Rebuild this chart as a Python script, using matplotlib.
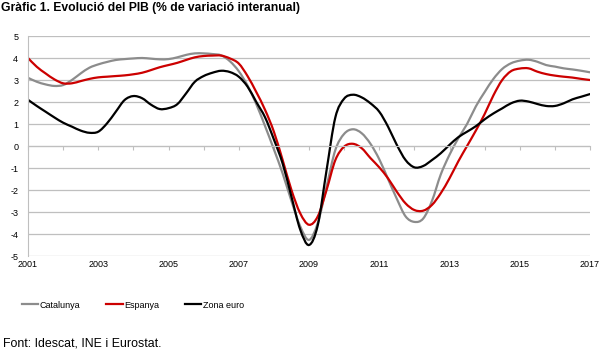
import numpy as np
import matplotlib.pyplot as plt
from matplotlib.path import Path
from matplotlib.patches import PathPatch
from matplotlib.lines import Line2D

# Quarterly values, 2001 Q1 .. 2017 Q1 (% interannual GDP change)
quarters = np.arange(2001, 2017.01, 0.25)

catalunya = [3.10, 2.92, 2.80, 2.73, 2.77, 3.00, 3.30, 3.56,
             3.71, 3.82, 3.91, 3.95, 3.98, 4.00, 3.97, 3.94,
             3.95, 4.03, 4.14, 4.21, 4.21, 4.18, 4.12, 3.85,
             3.40, 2.75, 1.90, 0.90, -0.15, -1.25, -2.50, -3.65,
             -4.27, -3.50, -1.85, -0.18, 0.55, 0.76, 0.58, 0.10,
             -0.60, -1.50, -2.40, -3.20, -3.45, -3.30, -2.50, -1.30,
             -0.40, 0.35, 1.00, 1.80, 2.45, 3.05, 3.50, 3.76,
             3.88, 3.92, 3.83, 3.68, 3.61, 3.53, 3.48, 3.42, 3.35]

espanya = [4.00, 3.60, 3.30, 3.03, 2.85, 2.85, 2.95, 3.05,
           3.12, 3.15, 3.18, 3.21, 3.26, 3.33, 3.45, 3.58,
           3.68, 3.78, 3.91, 4.03, 4.09, 4.11, 4.11, 3.98,
           3.75, 3.18, 2.45, 1.64, 0.65, -0.64, -2.00, -3.06,
           -3.58, -3.20, -2.00, -0.64, -0.03, 0.10, -0.10, -0.55,
           -0.97, -1.47, -2.08, -2.61, -2.91, -2.94, -2.68, -2.15,
           -1.47, -0.70, 0.00, 0.70, 1.45, 2.30, 3.00, 3.40,
           3.52, 3.53, 3.38, 3.27, 3.20, 3.15, 3.11, 3.05, 3.00]

zona_euro = [2.10, 1.82, 1.56, 1.30, 1.06, 0.88, 0.70, 0.60,
             0.65, 1.03, 1.56, 2.09, 2.27, 2.17, 1.88, 1.68,
             1.72, 1.90, 2.39, 2.92, 3.18, 3.33, 3.42, 3.36,
             3.15, 2.70, 2.00, 1.30, 0.30, -0.80, -2.30, -3.80,
             -4.50, -3.60, -1.10, 1.30, 2.15, 2.33, 2.21, 1.94,
             1.56, 0.88, 0.05, -0.64, -0.97, -0.91, -0.64, -0.33,
             0.05, 0.40, 0.65, 0.90, 1.21, 1.48, 1.71, 1.94,
             2.06, 2.02, 1.91, 1.82, 1.82, 1.94, 2.12, 2.24, 2.36]

series_names = ['Catalunya', 'Espanya', 'Zona euro']
series_colors = ['#8c8c8c', '#cc0000', 'black']

year_ticks = list(range(2001, 2018, 2))
y_ticks = list(range(-5, 6))


def smooth_path(x, y):
    """Smoothed line through the points (spreadsheet-style bezier)."""
    pts = np.column_stack([x, y])
    verts = [pts[0]]
    codes = [Path.MOVETO]
    n = len(pts)
    for i in range(n - 1):
        p0 = pts[i - 1] if i > 0 else pts[i]
        p1 = pts[i]
        p2 = pts[i + 1]
        p3 = pts[i + 2] if i + 2 < n else pts[i + 1]
        verts += [p1 + (p2 - p0) / 6, p2 - (p3 - p1) / 6, p2]
        codes += [Path.CURVE4] * 3
    return Path(verts, codes)


plt.rcParams['font.family'] = ['Liberation Sans', 'DejaVu Sans']
plt.rcParams['axes.unicode_minus'] = False

fig = plt.figure(figsize=(6, 3.52), dpi=100)
ax = fig.add_axes([28/600, 1 - 256/352, (590 - 28)/600, 220/352])

handles = []
for vals, name, col in zip([catalunya, espanya, zona_euro],
                           series_names, series_colors):
    ax.add_patch(PathPatch(smooth_path(quarters, vals), fill=False,
                           edgecolor=col, lw=1.6, capstyle='round'))
    handles.append(Line2D([], [], color=col, lw=1.6, label=name))

ax.set_xlim(2001, 2017)
ax.set_ylim(-5, 5)
ax.set_yticks(y_ticks)
ax.yaxis.grid(True, color='#bfbfbf', lw=0.9)
ax.set_axisbelow(True)
ax.tick_params(axis='y', length=0, labelsize=6.5, pad=7)

for s in ['top', 'right']:
    ax.spines[s].set_visible(False)
ax.spines['left'].set_color('#bfbfbf')
# year tick marks sit on the zero line
ax.spines['bottom'].set_position(('data', 0))
ax.spines['bottom'].set_color('#bfbfbf')
ax.set_xticks(range(2001, 2018))
ax.tick_params(axis='x', direction='out', length=3, color='#bfbfbf',
               labelbottom=False)

lab = ax.secondary_xaxis('bottom')
lab.set_xticks(year_ticks)
lab.tick_params(length=0, labelsize=6.5, pad=3)
lab.spines['bottom'].set_visible(False)

fig.text(0.002, 1 - 8/352, 'Gràfic 1. Evolució del PIB (% de variació interanual)',
         fontsize=8.7, fontweight='bold', va='center', ha='left')

fig.legend(handles=handles, loc='center left',
           bbox_to_anchor=(22/600, 1 - 305/352), ncol=3,
           frameon=False, fontsize=6.5, handlelength=1.8, handletextpad=0.15,
           columnspacing=2.9, borderpad=0, borderaxespad=0)

fig.text(0.005, 1 - 343/352, 'Font: Idescat, INE i Eurostat.', fontsize=8.9,
         va='center', ha='left')

fig.savefig('out.png', dpi=100)
